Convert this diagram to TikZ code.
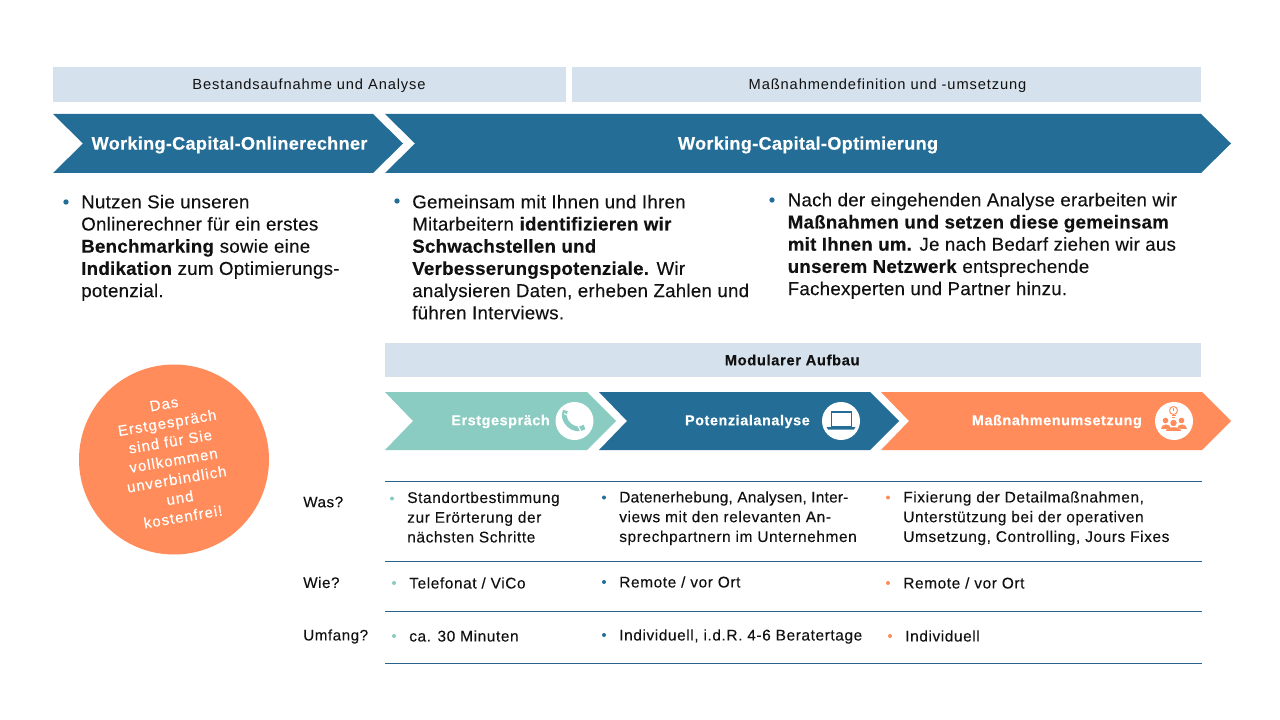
\documentclass[tikz,border=0pt]{standalone}
\usepackage{fontspec}
\setmainfont{Liberation Sans}[FakeBold=0.15,BoldFeatures={FakeBold=0.35}]
\definecolor{barc}{HTML}{D5E1EC}
\definecolor{bluec}{HTML}{236D96}
\definecolor{tealc}{HTML}{8ACCC1}
\definecolor{orangec}{HTML}{FF8C5A}
\definecolor{rulec}{HTML}{2A6488}
\definecolor{inkc}{HTML}{111111}
\newcommand\fsBig{\fontsize{14}{16.65}\selectfont\addfontfeature{LetterSpace=1.5}}
\newcommand\fsMid{\fontsize{11.6}{14.8}\selectfont\addfontfeature{LetterSpace=3.7}}
\newcommand\fsBar{\fontsize{11}{14}\selectfont\addfontfeature{LetterSpace=6,FakeBold=0}}
\newcommand\tightline[1]{{\addfontfeature{LetterSpace=1.3}#1}}
\tikzset{
  x=0.75pt,y=-0.75pt,
  barbox/.style={fill=barc,draw=none},
  bigtxt/.style={anchor=north west,inner sep=0pt,align=left,text=inkc,font=\fsBig},
  midtxt/.style={anchor=north west,inner sep=0pt,align=left,text=inkc,font=\fsMid},
  rowlab/.style={anchor=west,inner sep=0pt,text=inkc,font=\fontsize{11.4}{14}\selectfont\addfontfeature{LetterSpace=3.5}},
  bartxt/.style={inner sep=0pt,text=inkc,font=\fsBar},
  headtxt/.style={inner sep=0pt,text=white,font=\fontsize{13.6}{16}\selectfont\bfseries\addfontfeature{LetterSpace=1.6}},
  subtxt/.style={anchor=east,inner sep=0pt,text=white,font=\fontsize{10.8}{13}\selectfont\bfseries\addfontfeature{LetterSpace=4}},
  rulel/.style={draw=rulec,line width=0.7pt},
  bul/.style={circle,inner sep=0pt,minimum size=#1},
  iconc/.style={circle,fill=white,inner sep=0pt,minimum size=28.5pt},
}
\begin{document}
\begin{tikzpicture}
\useasboundingbox (0,0) rectangle (1280,720);
\fill[white] (0,0) rectangle (1280,720);
% top bars
\fill[barbox] (53,67) rectangle (566,102);
\fill[barbox] (572,67) rectangle (1201,102);
\node[bartxt] (t1) at (309,85.5) {Bestandsaufnahme und Analyse};
\node[bartxt] (t2) at (887.5,85.5) {Maßnahmendefinition und -umsetzung};
% main chevrons
\fill[bluec] (53,114) -- (373,114) -- (403,143.5) -- (373,173) -- (53,173) -- (83,143.5) -- cycle;
\fill[bluec] (385,114) -- (1201,114) -- (1231,143.5) -- (1201,173) -- (385,173) -- (415,143.5) -- cycle;
\node[headtxt] (h1) at (229.5,145) {Working-Capital-Onlinerechner};
\node[headtxt] (h2) at (808,145) {Working-Capital-Optimierung};
% bullets and text
\node[bul=4pt,fill=bluec] (b1) at (66,202) {};
\node[bigtxt] (p1) at (81,194.5) {Nutzen Sie unseren\\Onlinerechner für ein erstes\\\textbf{Benchmarking} sowie eine\\\textbf{Indikation} zum Optimierungs-\\potenzial.};
\node[bul=4pt,fill=bluec] (b2) at (397,201) {};
\node[bigtxt] (p2) at (412,194.5) {Gemeinsam mit Ihnen und Ihren\\Mitarbeitern \textbf{identifizieren wir}\\\textbf{Schwachstellen und}\\\textbf{Verbesserungspotenziale.} Wir\\analysieren Daten, erheben Zahlen und\\führen Interviews.};
\node[bul=4pt,fill=bluec] (b3) at (772,200) {};
\node[bigtxt] (p3) at (787.5,192.5) {Nach der eingehenden Analyse erarbeiten wir\\\textbf{Maßnahmen und setzen diese gemeinsam}\\\textbf{mit Ihnen um.} Je nach Bedarf ziehen wir aus\\\textbf{unserem Netzwerk} entsprechende\\Fachexperten und Partner hinzu.};
% modular bar
\fill[barbox] (385,343) rectangle (1201,377);
\node[inner sep=0pt,text=inkc,font=\fontsize{11}{14}\selectfont\addfontfeature{LetterSpace=4.5}] (m) at (792.5,360) {\textbf{Modularer Aufbau}};
% small chevrons
\fill[tealc] (385,392) -- (587,392) -- (616,421) -- (587,450) -- (385,450) -- (413,421) -- cycle;
\fill[bluec] (599,392) -- (870,392) -- (899,421) -- (870,450) -- (599,450) -- (627,421) -- cycle;
\fill[orangec] (881,392) -- (1202,392) -- (1231,421) -- (1202,450) -- (881,450) -- (909,421) -- cycle;
\node[subtxt] (s1) at (550,421.5) {Erstgespräch};
\node[subtxt] (s2) at (810,421.5) {Potenzialanalyse};
\node[subtxt] (s3) at (1142,421.5) {Maßnahmenumsetzung};
% icon: phone
\node[iconc] (i1) at (574.5,421) {};
\draw[tealc,line width=3.6pt] (565.5,410.5) .. controls (560,420) and (574,434) .. (584.5,427);
\draw[white,line width=0.8pt] (564,413.5) -- (570,416.5) (578,426) -- (581,431.5);
% icon: laptop
\node[iconc] (i2) at (841,421) {};
\draw[bluec,line width=1pt] (831.5,412) rectangle (851.5,426.5);
\fill[bluec] (826.5,427) -- (855.5,427) -- (854,429.5) -- (828,429.5) -- cycle;
% icon: people and bulb
\node[iconc] (i3) at (1174,421) {};
\draw[orangec,line width=0.7pt] (1173.5,410.5) circle (4);
\draw[orangec,line width=0.7pt] (1171.5,415.5) -- (1175.5,415.5) (1172,417.5) -- (1175,417.5);
\fill[orangec] (1173,408) rectangle (1174,411);
\fill[orangec] (1165.5,420.5) circle (2.8) (1181.5,420.5) circle (2.8) (1173.5,423) circle (3.2);
\fill[orangec] (1160.5,429) .. controls (1160.5,422.5) and (1170.5,422.5) .. (1170.5,429) -- cycle;
\fill[orangec] (1176.5,429) .. controls (1176.5,422.5) and (1186.5,422.5) .. (1186.5,429) -- cycle;
\fill[white] (1164.5,432) .. controls (1164.5,425.5) and (1182.5,425.5) .. (1182.5,432) -- cycle;
\fill[orangec] (1166,431) .. controls (1166,426) and (1181,426) .. (1181,431) -- cycle;
% circle
\node[circle,fill=orangec,inner sep=0pt,minimum size=142.5pt] (c) at (174,459.5) {};
\node[rotate=9.6,align=center,inner sep=0pt,text=white,font=\fontsize{11.2}{14.3}\selectfont\addfontfeature{LetterSpace=7,FakeBold=0.3}] (ct) at (173.5,460.5) {Das\\Erstgespräch\\sind für Sie\\vollkommen\\unverbindlich\\und\\kostenfrei!};
% rules
\coordinate (r1a) at (385,481.5); \coordinate (r1b) at (1202,481.5);
\coordinate (r2a) at (385,561.5); \coordinate (r2b) at (1202,561.5);
\coordinate (r3a) at (385,611.5); \coordinate (r3b) at (1202,611.5);
\coordinate (r4a) at (385,663.5); \coordinate (r4b) at (1202,663.5);
\draw[rulel] (r1a) -- (r1b);
\draw[rulel] (r2a) -- (r2b);
\draw[rulel] (r3a) -- (r3b);
\draw[rulel] (r4a) -- (r4b);
% row labels
\node[rowlab] (w1) at (303,502) {Was?};
\node[rowlab] (w2) at (303,582.5) {Wie?};
\node[rowlab] (w3) at (303,636.5) {Umfang?};
% table bullets
\node[bul=3pt,fill=tealc] (tb1) at (392,498.5) {};
\node[bul=3pt,fill=bluec] (tb2) at (604,497.5) {};
\node[bul=3pt,fill=orangec] (tb3) at (888,497.5) {};
\node[bul=3pt,fill=tealc] (tb4) at (394,583) {};
\node[bul=3pt,fill=bluec] (tb5) at (604,582) {};
\node[bul=3pt,fill=orangec] (tb6) at (888,583) {};
\node[bul=3pt,fill=tealc] (tb7) at (394,636) {};
\node[bul=3pt,fill=bluec] (tb8) at (604,635) {};
\node[bul=3pt,fill=orangec] (tb9) at (890,636) {};
% table text
\node[midtxt] (a1) at (407,491.5) {Standortbestimmung\\zur Erörterung der\\nächsten Schritte};
\node[midtxt] (a2) at (619,491) {\tightline{Datenerhebung, Analysen, Inter-}\\views mit den relevanten An-\\sprechpartnern im Unternehmen};
\node[midtxt] (a3) at (903,491) {Fixierung der Detailmaßnahmen,\\Unterstützung bei der operativen\\Umsetzung, Controlling, Jours Fixes};
\node[midtxt] (a4) at (409,577) {Telefonat / ViCo};
\node[midtxt] (a5) at (619,576) {Remote / vor Ort};
\node[midtxt] (a6) at (903,577) {Remote / vor Ort};
\node[midtxt] (a7) at (409,630) {ca. 30 Minuten};
\node[midtxt] (a8) at (619,629) {Individuell, i.d.R. 4-6 Beratertage};
\node[midtxt] (a9) at (905,630) {Individuell};
\end{tikzpicture}
\end{document}
